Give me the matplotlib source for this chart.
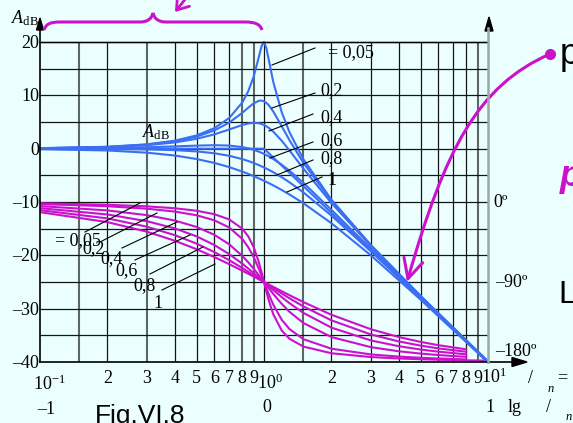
import matplotlib
matplotlib.use("Agg")
import matplotlib.pyplot as plt
import matplotlib.transforms as mtransforms
from matplotlib.path import Path
from matplotlib.patches import FancyArrowPatch, PathPatch, Polygon
from matplotlib.lines import Line2D

plt.rcParams['font.family'] = ['Liberation Serif', 'DejaVu Serif']
plt.rcParams['mathtext.fontset'] = 'custom'
plt.rcParams['mathtext.rm'] = 'Liberation Serif'
plt.rcParams['mathtext.it'] = 'Liberation Serif:italic'

BG = '#eafffe'
BLUE = '#3b6ef2'
MAG = '#cc10cc'

# relative frequency w/wn of the points
w_mag = [0.1, 0.2, 0.3, 0.4, 0.5, 0.6, 0.7, 0.8, 0.85, 0.9, 0.95, 0.975,
         1.0, 1.025, 1.05, 1.1, 1.2, 1.3, 1.5, 2, 3, 5, 10]

# A_dB for each damping curve (top to bottom)
mag_005 = [0.09, 0.35, 0.81, 1.50, 2.48, 3.84, 5.77, 8.66, 10.75, 13.55, 17.32, 19.23,
           20.0, 18.84, 16.67, 12.50, 6.82, 3.07, -2.00, -9.56, -18.07, -27.61, -39.91]
mag_02 = [0.08, 0.33, 0.76, 1.39, 2.26, 3.41, 4.90, 6.73, 7.68, 8.51, 8.98, 9.01,
          8.87, 8.58, 8.14, 6.97, 4.20, 1.58, -2.68, -9.79, -18.14, -27.63, -39.92]
mag_04 = [0.07, 0.29, 0.65, 1.17, 1.85, 2.68, 3.60, 4.44, 4.72, 4.85, 4.76, 4.63,
          4.44, 4.19, 3.90, 3.19, 1.48, -0.35, -3.75, -10.19, -18.28, -27.67, -39.93]
mag_06 = [0.03, 0.12, 0.26, 0.43, 0.57, 0.65, 0.58, 0.30, 0.07, -0.22, -0.58, -0.77,
          -0.98, -1.21, -1.44, -1.94, -3.01, -4.14, -6.42, -11.47, -18.77, -27.83, -39.97]
mag_08 = [-0.01, -0.05, -0.13, -0.28, -0.51, -0.86, -1.34, -1.96, -2.31, -2.69, -3.10, -3.31,
          -3.52, -3.74, -3.96, -4.42, -5.36, -6.31, -8.21, -12.55, -19.26, -28.01, -40.01]
mag_1 = [-0.09, -0.34, -0.75, -1.29, -1.94, -2.67, -3.46, -4.30, -4.72, -5.15, -5.59, -5.80,
         -6.02, -6.24, -6.45, -6.89, -7.75, -8.60, -10.24, -13.98, -20.00, -28.30, -40.09]
mag_curves = [mag_005, mag_02, mag_04, mag_06, mag_08, mag_1]

# straight-line asymptote
asym_w = [0.1, 1, 10]
asym_db = [0, 0, -40]

w_ph = [0.1, 0.2, 0.3, 0.4, 0.5, 0.6, 0.7, 0.8, 0.85, 0.9, 0.95, 0.975, 1.0,
        1.025, 1.05, 1.1, 1.2, 1.3, 1.5, 2, 3, 4, 5, 6, 8, 10]

# phase in degrees
ph_005 = [-1.50, -3.10, -4.90, -7.06, -9.83, -13.70, -19.64, -30.02, -38.53, -50.92, -68.46, -78.98, -90,
          -100.76, -110.58, -126.29, -144.67, -153.90, -162.67, -170.17, -174.43, -176.04, -176.90,
          -177.45, -178.11, -178.50]
ph_02 = [-2.31, -4.76, -7.51, -10.78, -14.93, -20.56, -28.77, -41.63, -50.78, -62.18, -75.61, -82.79, -90,
         -97.04, -103.71, -115.52, -132.51, -143.0, -154.36, -165.07, -171.47, -173.91, -175.24,
         -176.08, -177.09, -177.69]
ph_04 = [-4.62, -9.46, -14.77, -20.85, -28.07, -36.87, -47.67, -60.64, -67.80, -75.22, -82.69, -86.38, -90,
         -93.53, -96.96, -103.42, -114.62, -123.57, -136.17, -151.93, -163.30, -167.96, -170.54,
         -172.19, -174.20, -175.38]
ph_06 = [-6.91, -14.04, -21.59, -29.74, -38.66, -48.37, -58.73, -69.44, -74.78, -80.02, -85.11, -87.58, -90,
         -92.36, -94.65, -99.04, -106.99, -113.86, -124.78, -141.34, -155.77, -162.26, -165.96,
         -168.38, -171.34, -173.09]
ph_08 = [-9.18, -18.43, -27.81, -37.30, -46.85, -56.31, -65.52, -74.29, -78.47, -82.48, -86.33, -88.19, -90,
         -91.77, -93.49, -96.80, -102.91, -108.36, -117.51, -133.15, -149.04, -156.89, -161.57,
         -164.66, -168.51, -170.82]
ph_1 = [-11.42, -22.62, -33.40, -43.60, -53.13, -61.93, -69.98, -77.32, -80.73, -83.97, -87.06, -88.55, -90,
        -91.41, -92.79, -95.45, -100.39, -104.86, -112.62, -126.87, -143.13, -151.93, -157.38,
        -161.08, -165.75, -168.58]
ph_curves = [ph_005, ph_02, ph_04, ph_06, ph_08, ph_1]
ph_npts = [26, 25, 25, 25, 25, 25]  # only the 0,05 curve runs to 10

zeta_txt = ['= 0,05', '0,2', '0,4', '0,6', '0,8', '1']

grid_w = [0.15, 0.2, 0.3, 0.4, 0.5, 0.6, 0.7, 0.8, 0.9, 1.0,
          1.5, 2, 3, 4, 5, 6, 7, 8, 9]
grey_w = [0.15, 0.3, 0.8, 0.9, 1.5, 9]
db_lines = [-35, -30, -25, -20, -15, -10, -5, 0, 5, 10, 15, 20]
db_lbl = [20, 10, 0, -10, -20, -30, -40]
minor_lbl = [2, 3, 4, 5, 6, 7, 8, 9]

W, H = 573, 423
fig = plt.figure(figsize=(W / 100, H / 100), dpi=100)
fig.patch.set_facecolor(BG)
# pixel coordinates, origin top-left, for the slide decorations
pix = mtransforms.Affine2D().scale(1 / W, -1 / H).translate(0, 1) + fig.transFigure


def put(x, y, s, **kw):
    kw.setdefault('fontsize', 13)
    kw.setdefault('va', 'baseline')
    fig.text(x, y, s, transform=pix, **kw)


def seg(x0, y0, x1, y1, **kw):
    kw.setdefault('color', 'black')
    kw.setdefault('lw', 0.8)
    fig.add_artist(Line2D([x0, x1], [y0, y1], transform=pix, **kw))


rect = [40 / W, 1 - 362 / H, 448 / W, 320 / H]
ax = fig.add_axes(rect)
ax.set_xscale('log')
ax.set_xlim(0.1, 10)
ax.set_ylim(-40, 20)
ax.axis('off')

# grid
for u in grid_w:
    if u in grey_w:
        ax.axvline(u, color='#5c6663', lw=1.5, zorder=1)
    else:
        ax.axvline(u, color='#151515', lw=0.9, zorder=1)
for d in db_lines:
    ax.axhline(d, color='#151515', lw=0.9, zorder=1, clip_on=False)

# phase axis: 0 deg at -10 dB, -180 deg at -40 dB
ax_ph = ax.twinx()
ax_ph.set_ylim(-180, 180)
ax_ph.axis('off')
for p, n in zip(ph_curves, ph_npts):
    ax_ph.plot(w_ph[:n], p[:n], color=MAG, lw=1.5, solid_capstyle='round')

ax_m = ax.twinx()
ax_m.set_ylim(-40, 20)
ax_m.axis('off')
for m in mag_curves:
    ax_m.plot(w_mag, m, color=BLUE, lw=1.5, clip_on=False)
ax_m.plot(asym_w, asym_db, color=BLUE, lw=1.5)

# axes frame with arrows
seg(40, 362, 40, 28, lw=1.2)
seg(40, 362, 514, 362, lw=1.2)
seg(40, 42, 488, 42, lw=1.0)
seg(488, 362, 488, 28, color='#9aa9a6', lw=1.8)
for tri in ([(40, 18), (36.5, 30), (43.5, 30)],
            [(489, 17), (485, 31), (493, 31)],
            [(527, 362), (512, 357.5), (512, 366.5)]):
    fig.add_artist(Polygon(tri, closed=True, color='black', transform=pix))

# tick labels
for d in db_lbl:
    yp = H - ax_m.transData.transform((1, d))[1]
    s = str(d).replace('-', '\u2013')
    put(39, yp + 6, s, ha='right')

for dec in [0.1, 1, 10]:
    for k in minor_lbl:
        if dec * k > 10:
            continue
        xp = ax.transData.transform((dec * k, 0))[0]
        put(xp, 383, str(k), ha='center')
for dec, s, yb in [(0.1, r'10$^{-1}$', 390), (1, r'10$^{0}$', 389), (10, r'10$^{1}$', 383)]:
    xp = ax.transData.transform((dec, 0))[0]
    put(xp - 7, yb, s, ha='left')

put(46, 414, '\u20131', ha='center')
put(267, 412, '0', ha='center')
put(490, 412, '1', ha='center')
put(508, 412, 'lg', ha='left')
put(548, 412, '/', ha='center')
put(569, 420, 'n', ha='center', fontsize=9, style='italic')
put(530, 383, '/', ha='center')
put(551, 392, 'n', ha='center', fontsize=9, style='italic')
put(557, 382, '=', ha='left')

# phase scale labels
put(493, 207, '0\u00ba', ha='left')
put(495, 287, '\u201390\u00ba', ha='left')
put(495, 356, '\u2013180\u00ba', ha='left')

# axis names
put(11, 23, r'$A_{\mathrm{dB}}$', ha='left')
put(142, 137, r'$A_{\mathrm{dB}}$', ha='left')

# damping labels, magnitude
mag_lead = [(272, 65, 315, 48), (272, 108, 315, 93), (269, 131, 313, 114),
            (270, 158, 313, 142), (277, 175, 313, 160), (287, 192, 322, 177)]
mag_txt_xy = [(328, 57), (320, 95), (320, 122), (320, 145), (320, 163), (327, 185)]
for (x0, y0, x1, y1), (tx, ty), s in zip(mag_lead, mag_txt_xy, zeta_txt):
    seg(x0, y0, x1, y1)
    put(tx, ty, s, ha='left')

# damping labels, phase
ph_lead = [(85, 232, 140, 203), (100, 242, 157, 213), (122, 248, 177, 222),
           (135, 260, 190, 235), (150, 274, 203, 247), (162, 290, 215, 264)]
ph_txt_xy = [(55, 245), (82, 253), (100, 263), (115, 275), (133, 290), (153, 308)]
for (x0, y0, x1, y1), (tx, ty), s in zip(ph_lead, ph_txt_xy, zeta_txt):
    seg(x0, y0, x1, y1)
    put(tx, ty, s, ha='left')

# slide decorations
brace = Path([(44, 30), (46, 24), (50, 22), (60, 22), (140, 22),
              (148, 22), (152, 18), (153, 13),
              (154, 18), (158, 22), (166, 22), (245, 22),
              (255, 22), (260, 24), (262, 30)],
             [Path.MOVETO, Path.CURVE4, Path.CURVE4, Path.CURVE4, Path.LINETO,
              Path.CURVE4, Path.CURVE4, Path.CURVE4,
              Path.CURVE4, Path.CURVE4, Path.CURVE4, Path.LINETO,
              Path.CURVE4, Path.CURVE4, Path.CURVE4])
fig.add_artist(PathPatch(brace, fc='none', ec=MAG, lw=2.2, transform=pix))

fig.add_artist(FancyArrowPatch((187, -3), (175, 12), arrowstyle='->,head_length=0.5,head_width=0.35',
                               mutation_scale=16, lw=2, color=MAG, transform=pix,
                               shrinkA=0, shrinkB=0))

curve = Path([(550, 54), (477, 86), (445, 150), (407, 282)],
             [Path.MOVETO, Path.CURVE4, Path.CURVE4, Path.CURVE4])
fig.add_artist(FancyArrowPatch(path=curve, arrowstyle='->,head_length=0.7,head_width=0.35',
                               mutation_scale=20, lw=2.2, color=MAG, transform=pix))
fig.add_artist(Line2D([550], [54], marker='o', ms=7, color=MAG, transform=pix))

put(560, 64, 'p', ha='left', fontsize=26, family='Liberation Sans')
put(560, 186, 'p', ha='left', fontsize=26, family='Liberation Sans',
    color=MAG, weight='bold', style='italic')
put(558, 303, 'L', ha='left', fontsize=23, family='Liberation Sans')
put(95, 423, 'Fig.VI.8', ha='left', fontsize=19, family='Liberation Sans')

fig.savefig('out.png', dpi=100, facecolor=BG)
